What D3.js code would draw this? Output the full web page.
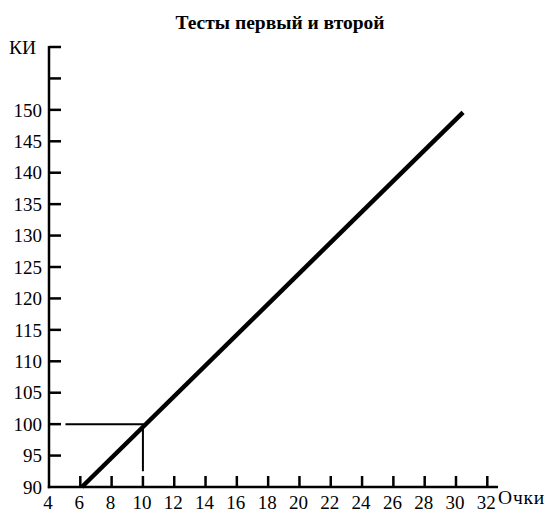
<!DOCTYPE html>
<html>
<head>
<meta charset="utf-8">
<script src="https://cdn.jsdelivr.net/npm/d3@7"></script>
<style>
  html, body { margin: 0; padding: 0; background: #fff; }
  svg text { font-family: "Liberation Serif", "Times New Roman", serif; fill: #000; }
</style>
</head>
<body>
<svg id="chart" width="547" height="514"></svg>
<script>
// Chart content
const title = "Тесты первый и второй";
const yAxisLabel = "КИ";
const xAxisLabel = "Очки";

// Axis ticks
const xTickValues = [6, 8, 10, 12, 14, 16, 18, 20, 22, 24, 26, 28, 30, 32];
const xTickLabels = [4, 6, 8, 10, 12, 14, 16, 18, 20, 22, 24, 26, 28, 30, 32];
const yTickValues = [95, 100, 105, 110, 115, 120, 125, 130, 135, 140, 145, 150, 155, 160];
const yTickLabels = [90, 95, 100, 105, 110, 115, 120, 125, 130, 135, 140, 145, 150];

// Conversion line (points -> IQ)
const lineX = [6.1, 30.45];
const lineY = [90, 149.6];

// Reading example: 10 points -> IQ 100
const guideX = [5.05, 10, 10];
const guideY = [100, 100, 92.5];

const svg = d3.select("#chart");

const x = d3.scaleLinear().domain([4, 32]).range([49, 487.3]);
const y = d3.scaleLinear().domain([90, 160]).range([487, 47]);

const axisY0 = y(90);

// Title
svg.append("text")
  .attr("x", 280).attr("y", 29)
  .attr("text-anchor", "middle")
  .attr("font-size", 19.5).attr("font-weight", "bold")
  .text(title);

// Y axis: line plus inward ticks
const gy = svg.append("g").attr("stroke", "#000").attr("stroke-width", 2.5);
gy.append("line")
  .attr("x1", x(4)).attr("x2", x(4))
  .attr("y1", y(160) - 1).attr("y2", axisY0 + 1.2);
gy.selectAll("line.tick").data(yTickValues).join("line")
  .attr("class", "tick")
  .attr("x1", x(4)).attr("x2", x(4) + 12)
  .attr("y1", d => y(d)).attr("y2", d => y(d));

svg.append("g").selectAll("text").data(yTickLabels).join("text")
  .attr("x", 42).attr("y", d => y(d))
  .attr("dy", "0.35em")
  .attr("text-anchor", "end")
  .attr("font-size", 19)
  .text(d => d);

svg.append("text")
  .attr("x", 36).attr("y", y(160))
  .attr("dy", "0.35em")
  .attr("text-anchor", "end")
  .attr("font-size", 19.5)
  .text(yAxisLabel);

// X axis: line plus upward ticks
const gx = svg.append("g").attr("stroke", "#000").attr("stroke-width", 2.5);
gx.append("line")
  .attr("x1", x(4) - 1.2).attr("x2", 498)
  .attr("y1", axisY0).attr("y2", axisY0);
gx.selectAll("line.tick").data(xTickValues).join("line")
  .attr("class", "tick")
  .attr("x1", d => x(d)).attr("x2", d => x(d))
  .attr("y1", axisY0).attr("y2", axisY0 - 11);

svg.append("g").selectAll("text").data(xTickLabels).join("text")
  .attr("x", d => x(d) - 1).attr("y", axisY0 + 22)
  .attr("text-anchor", "middle")
  .attr("font-size", 19)
  .text(d => d);

svg.append("text")
  .attr("x", 498).attr("y", axisY0 + 17)
  .attr("font-size", 19.5)
  .attr("letter-spacing", 0.8)
  .text(xAxisLabel);

// Guide lines for the example reading
const guide = d3.line().x(d => x(d[0])).y(d => y(d[1]));
svg.append("path")
  .datum(guideX.map((v, i) => [v, guideY[i]]))
  .attr("d", guide)
  .attr("fill", "none").attr("stroke", "#000").attr("stroke-width", 2);

// Main conversion line
svg.append("path")
  .datum(lineX.map((v, i) => [v, lineY[i]]))
  .attr("d", guide)
  .attr("fill", "none").attr("stroke", "#000").attr("stroke-width", 4.5);
</script>
</body>
</html>
